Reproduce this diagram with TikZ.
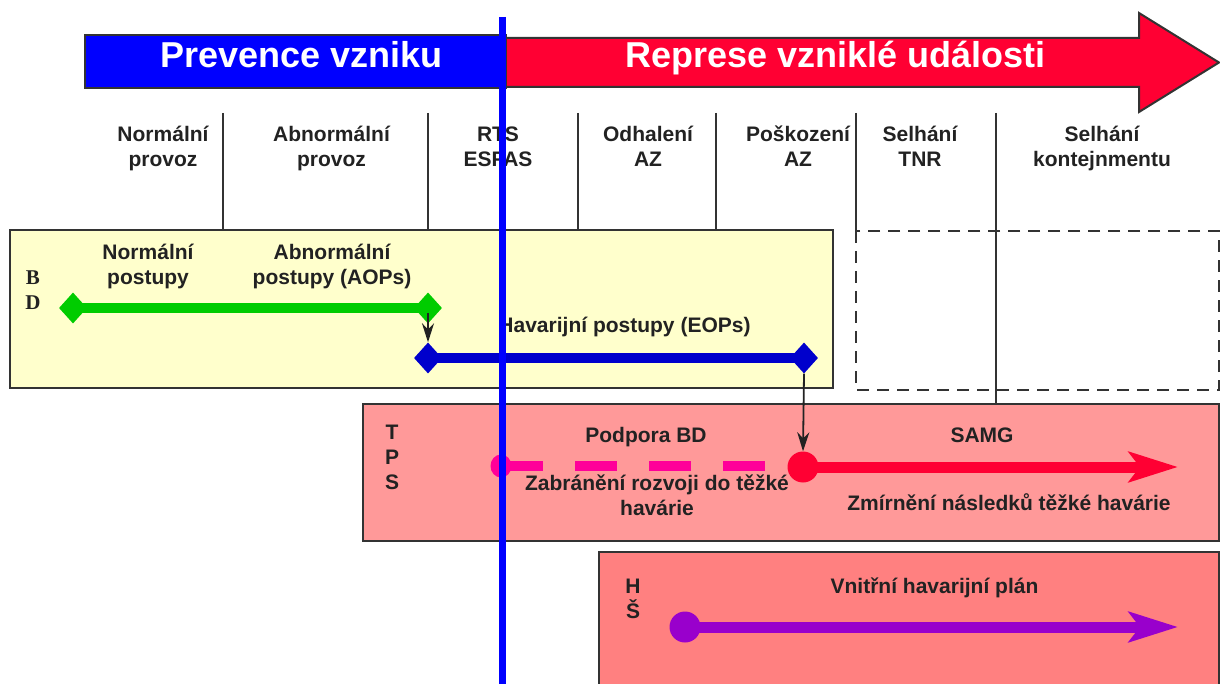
\documentclass[tikz,border=0pt]{standalone}
\usepackage{fontspec}
\setmainfont{Liberation Sans}
\newfontfamily\timesfont{Liberation Serif}
\usepackage{tikz}
\usetikzlibrary{shapes,arrows,arrows.meta}

\begin{document}
\begin{tikzpicture}[x=1pt,y=-1pt,font=\fontsize{21}{25}\selectfont\bfseries]
\useasboundingbox (0,0) rectangle (1220,684);
\definecolor{lineColor}{RGB}{51,51,51}
\definecolor{txtColor}{RGB}{34,34,34}
\definecolor{prevColor}{RGB}{0,0,255}
\definecolor{repColor}{RGB}{255,0,51}
\definecolor{bdColor}{RGB}{255,255,204}
\definecolor{tpsColor}{RGB}{255,153,153}
\definecolor{hsColor}{RGB}{255,128,128}
\definecolor{aopColor}{RGB}{0,204,0}
\definecolor{eopColor}{RGB}{0,0,204}
\definecolor{pinkColor}{RGB}{255,0,153}
\definecolor{purpColor}{RGB}{153,0,204}

% header
\draw[line width=2pt,color=lineColor,fill=repColor] (505,38) -- (1139,38) -- (1139,13) -- (1219,62.5) -- (1139,112) -- (1139,87) -- (505,87) -- cycle;
\node[draw=lineColor,line width=2pt,fill=prevColor,minimum width=421pt,minimum height=53pt,inner sep=0pt] (prevBox) at (295,62) {};
\node[anchor=base,text=white,font=\fontsize{36}{40}\selectfont\bfseries] (prevText) at (301.5,68) {Prevence vzniku};
\node[anchor=base,text=white,font=\fontsize{36}{40}\selectfont\bfseries] (repText) at (835.5,68) {Represe vzniklé události};

% columns
\foreach \x in {223,428,578,716}
  \draw[line width=2pt,color=lineColor] (\x,113) -- (\x,230);
\draw[line width=2pt,color=lineColor] (856,113) -- (856,231);
\draw[line width=2pt,color=lineColor] (996,113) -- (996,403);
\foreach \x/\name/\txt in {163/colNorm/{Normální\\provoz},331.5/colAbn/{Abnormální\\provoz},498/colRts/{RTS\\ESFAS},648/colOdh/{Odhalení\\AZ},798/colPos/{Poškození\\AZ},920/colTnr/{Selhání\\TNR},1102/colKont/{Selhání\\kontejnmentu}}
  \node[anchor=base,align=center,text=txtColor,inner sep=0pt] (\name) at (\x,167) {\txt};

% BD
\node[draw=lineColor,line width=2pt,fill=bdColor,minimum width=823pt,minimum height=158pt,inner sep=0pt] (bdBox) at (421.5,309) {};
\draw[line width=2pt,color=lineColor,dash pattern=on 12pt off 8pt] (856,231) rectangle (1219,390);
\node[anchor=base,align=center,text=txtColor,inner sep=0pt,font=\timesfont\fontsize{21}{25}\selectfont\bfseries] (bdLabel) at (33,310) {B\\D};
\node[anchor=base,align=center,text=txtColor,inner sep=0pt] (normText) at (148,285) {Normální\\postupy};
\node[anchor=base,align=center,text=txtColor,inner sep=0pt] (aopText) at (332,285) {Abnormální\\postupy (AOPs)};
\node[anchor=base,text=txtColor,inner sep=0pt] (eopText) at (624.5,333) {Havarijní postupy (EOPs)};
\node[diamond,fill=aopColor,minimum width=28pt,minimum height=31pt,inner sep=0pt] (gL) at (73,308) {};
\node[diamond,fill=aopColor,minimum width=28pt,minimum height=31pt,inner sep=0pt] (gR) at (428,308) {};
\draw[line width=10pt,color=aopColor] (gL.center) -- (gR.center);
\node[diamond,fill=eopColor,minimum width=28pt,minimum height=31pt,inner sep=0pt] (bL) at (428,358) {};
\node[diamond,fill=eopColor,minimum width=28pt,minimum height=31pt,inner sep=0pt] (bR) at (804,358) {};
\draw[line width=10pt,color=eopColor] (bL.center) -- (bR.center);
\draw[line width=1.8pt,color=txtColor,-{Stealth[length=19pt,width=12pt,inset=6pt]}] ([yshift=-5pt]gR.center) -- (bL.north);

% TPS
\node[draw=lineColor,line width=2pt,fill=tpsColor,minimum width=856pt,minimum height=137pt,inner sep=0pt] (tpsBox) at (791,472.5) {};
\node[anchor=base,align=center,text=txtColor,inner sep=0pt] (tpsLabel) at (392,489) {T\\P\\S};
\node[anchor=base,text=txtColor,inner sep=0pt] (podText) at (646,442) {Podpora BD};
\node[anchor=base,text=txtColor,inner sep=0pt] (samgText) at (982,442) {SAMG};
\node[anchor=base,align=center,text=txtColor,inner sep=0pt] (zabText) at (657,515) {Zabránění rozvoji do těžké\\havárie};
\node[anchor=base,text=txtColor,inner sep=0pt] (zmiText) at (1009,510) {Zmírnění následků těžké havárie};
\node[ellipse,fill=pinkColor,minimum width=21pt,minimum height=23pt,inner sep=0pt] (tpsStart) at (501,466) {};
\coordinate (dashEnd) at (769,466);
\draw[line width=10pt,color=pinkColor,dash pattern=on 42pt off 32pt] (tpsStart.center) -- (dashEnd);
\node[circle,fill=repColor,minimum size=31pt,inner sep=0pt] (samgStart) at (803,467) {};
\coordinate (samgEnd) at (1178,467);
\draw[line width=11pt,color=repColor,-{Stealth[length=49pt,width=30pt,inset=11pt]}] (samgStart.center) -- (samgEnd);
\draw[line width=1.8pt,color=txtColor,-{Stealth[length=19pt,width=12pt,inset=6pt]}] (bR.south) -- (samgStart.north);

% HS
\node[draw=lineColor,line width=2pt,fill=hsColor,minimum width=620pt,minimum height=140pt,inner sep=0pt] (hsBox) at (909,622) {};
\node[anchor=base,align=center,text=txtColor,inner sep=0pt] (hsLabel) at (633,618) {H\\Š};
\node[anchor=base,text=txtColor,inner sep=0pt] (vhpText) at (934.5,593) {Vnitřní havarijní plán};
\node[circle,fill=purpColor,minimum size=31pt,inner sep=0pt] (hsStart) at (685,627) {};
\coordinate (hsEnd) at (1178,627);
\draw[line width=11pt,color=purpColor,-{Stealth[length=49pt,width=30pt,inset=11pt]}] (hsStart.center) -- (hsEnd);

% time line
\draw[line width=6.5pt,color=prevColor] (502.5,17) -- (502.5,684);
\end{tikzpicture}
\end{document}
